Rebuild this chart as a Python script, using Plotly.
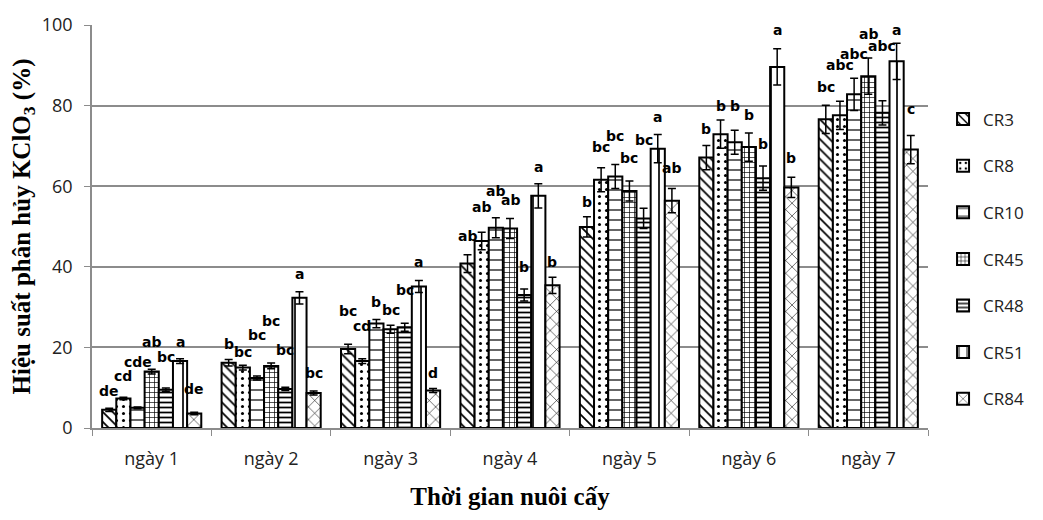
import plotly.graph_objects as go

days = ["ngày 1", "ngày 2", "ngày 3", "ngày 4", "ngày 5", "ngày 6", "ngày 7"]
series_names = ["CR3", "CR8", "CR10", "CR45", "CR48", "CR51", "CR84"]

cr3 = [4.5, 16.2, 19.6, 40.8, 49.9, 67.1, 76.6]
cr8 = [7.3, 15.0, 16.6, 46.4, 61.6, 72.9, 77.6]
cr10 = [5.0, 12.4, 25.9, 49.7, 62.4, 70.9, 82.8]
cr45 = [14.0, 15.4, 24.5, 49.5, 58.8, 69.7, 87.3]
cr48 = [9.5, 9.7, 25.0, 33.0, 52.0, 62.0, 78.2]
cr51 = [16.6, 32.3, 35.1, 57.6, 69.3, 89.6, 91.0]
cr84 = [3.6, 8.7, 9.3, 35.4, 56.4, 59.7, 69.1]

err3 = [0.4, 0.8, 1.2, 2.2, 2.5, 3.0, 3.5]
err8 = [0.3, 0.6, 0.6, 2.2, 3.0, 3.5, 3.5]
err10 = [0.2, 0.5, 1.0, 2.5, 3.0, 3.0, 4.0]
err45 = [0.6, 0.7, 1.0, 2.5, 2.5, 3.5, 4.5]
err48 = [0.4, 0.4, 1.0, 1.5, 2.5, 3.0, 3.0]
err51 = [0.6, 1.5, 1.5, 3.0, 3.5, 4.5, 4.5]
err84 = [0.3, 0.5, 0.5, 2.0, 3.0, 2.5, 3.5]

lab3 = ["de", "b", "bc", "ab", "b", "b", "bc"]
lab8 = ["cd", "bc", "cd", "ab", "bc", "b", "abc"]
lab10 = ["cde", "bc", "b", "ab", "bc", "b", "abc"]
lab45 = ["ab", "bc", "bc", "ab", "bc", "b", "ab"]
lab48 = ["bc", "bc", "bc", "b", "bc", "b", "abc"]
lab51 = ["a", "a", "a", "a", "a", "a", "a"]
lab84 = ["de", "bc", "d", "b", "ab", "b", "c"]

# layout: heights (axis units) where the significance letters sit (staggered as in the original)
labpos3 = [6.7, 18.4, 26.5, 45.1, 53.5, 71.7, 82.2]
labpos8 = [10.3, 16.4, 22.9, 52.3, 67.3, 77.4, 87.5]
labpos10 = [14.0, 20.6, 28.9, 56.4, 69.9, 77.4, 90.3]
labpos45 = [18.8, 24.1, 26.9, 54.0, 64.5, 75.2, 95.2]
labpos48 = [15.2, 16.8, 31.7, 37.4, 68.9, 68.1, 92.3]
labpos51 = [18.8, 35.8, 38.6, 62.4, 74.6, 96.4, 96.4]
labpos84 = [7.2, 11.1, 11.1, 38.6, 62.0, 64.5, 76.6]

values = [cr3, cr8, cr10, cr45, cr48, cr51, cr84]
errors = [err3, err8, err10, err45, err48, err51, err84]
labels = [lab3, lab8, lab10, lab45, lab48, lab51, lab84]
labpos = [labpos3, labpos8, labpos10, labpos45, labpos48, labpos51, labpos84]

patterns = [
    dict(shape="\\", size=7, solidity=0.25),
    dict(shape=".", size=7, solidity=0.15),
    dict(shape="-", size=10, solidity=0.12),
    dict(shape="+", size=5, solidity=0.25),
    dict(shape="-", size=5, solidity=0.35),
    dict(shape="|", size=14, solidity=0.12),
    dict(shape="x", size=9, solidity=0.12),
]

fig = go.Figure()
for i, name in enumerate(series_names):
    p = patterns[i]
    fig.add_trace(go.Bar(
        x=days, y=values[i], name=name, legendgroup=name,
        marker=dict(color="white", line=dict(color="black", width=2),
                    pattern=dict(shape=p["shape"], size=p["size"], solidity=p["solidity"],
                                 fgcolor="black", bgcolor="white", fillmode="replace")),
        error_y=dict(type="data", array=errors[i], visible=True, color="black",
                     thickness=1.5, width=4),
    ))

group_px = 836 / 7
bar_px = group_px * (1 - 0.17) / 7
for i in range(7):
    for j, d in enumerate(days):
        fig.add_annotation(x=d, y=labpos[i][j], text=labels[i][j], showarrow=False,
                           xref="x", yref="y", yanchor="bottom", xshift=(i - 3) * bar_px,
                           font=dict(family="DejaVu Sans", size=14, color="black", weight="bold"))

fig.update_layout(
    width=1043, height=520,
    margin=dict(l=92, r=115, t=15, b=92),
    paper_bgcolor="white", plot_bgcolor="white",
    barmode="group", bargap=0.17, bargroupgap=0,
    showlegend=True,
    legend=dict(x=1.018, y=0.81, xanchor="left", yanchor="top",
                font=dict(family="Open Sans", size=17, color="#222"),
                tracegroupgap=21.5, itemwidth=30, bgcolor="rgba(0,0,0,0)"),
    xaxis=dict(type="category", showline=True, linecolor="#8c8c8c", linewidth=1.5,
               ticks="outside", tickson="boundaries", ticklen=6, tickcolor="#8c8c8c",
               ticklabelstandoff=14,
               tickfont=dict(family="Open Sans", size=18, color="#222"),
               title=dict(text="Thời gian nuôi cấy", standoff=18,
                          font=dict(family="Liberation Serif", size=25, color="black", weight="bold"))),
    yaxis=dict(range=[0, 100], dtick=20, showgrid=True, gridcolor="#8c8c8c", gridwidth=1.5,
               showline=True, linecolor="#8c8c8c", linewidth=1.5, ticks="outside", ticklen=6,
               tickcolor="#8c8c8c", zeroline=False, ticklabelstandoff=8,
               tickfont=dict(family="Open Sans", size=18, color="#222"),
               title=dict(text="Hiệu suất phân hủy KClO<sub>3</sub> (%)", standoff=4,
                          font=dict(family="Liberation Serif", size=25, color="black", weight="bold"))),
)

fig.write_html("out.html")
